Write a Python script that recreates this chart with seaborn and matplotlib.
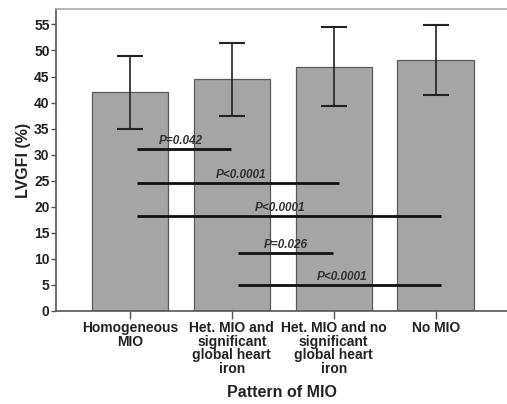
import matplotlib
matplotlib.use("Agg")
import matplotlib.pyplot as plt
import pandas as pd
import seaborn as sns

# Values
categories = [
    "Homogeneous\nMIO",
    "Het. MIO and\nsignificant\nglobal heart\niron",
    "Het. MIO and no\nsignificant\nglobal heart\niron",
    "No MIO",
]
lvgfi_mean = [42.0, 44.5, 46.9, 48.2]
lvgfi_err = [7.0, 7.0, 7.6, 6.7]

# pairwise comparisons: start, end (category position), height, label
comp_start = [0.07, 0.07, 0.07, 1.06, 1.06]
comp_end = [0.99, 2.05, 3.05, 1.99, 3.05]
comp_y = [31.0, 24.6, 18.2, 11.2, 5.0]
comp_label = ["P=0.042", "P<0.0001", "P<0.0001", "P=0.026", "P<0.0001"]
comp_text_x = [0.50, 1.09, 1.47, 1.53, 2.08]


def main():
    sns.set_style("white")
    plt.rcParams["font.family"] = ["Liberation Sans", "DejaVu Sans"]

    df = pd.DataFrame({"pattern": categories, "lvgfi": lvgfi_mean})

    fig = plt.figure(figsize=(5.07, 4.04), dpi=100)
    ax = fig.add_axes([0.1105, 0.2302, 0.8895, 0.7468])

    sns.barplot(df, x="pattern", y="lvgfi", color="#a5a5a5", saturation=1,
                width=0.75, edgecolor="#5a5a5a", linewidth=0.9, errorbar=None, ax=ax)
    ax.errorbar(range(len(categories)), lvgfi_mean, yerr=lvgfi_err, fmt="none",
                ecolor="#222222", elinewidth=1.2, capsize=9.4, capthick=1.5, zorder=3)

    for x0, x1, y, lab, tx in zip(comp_start, comp_end, comp_y, comp_label, comp_text_x):
        ax.plot([x0, x1], [y, y], color="#111111", lw=2.0, solid_capstyle="butt", zorder=4)
        ax.text(tx, y + 0.4, lab, ha="center", va="bottom", fontsize=8.5,
                fontstyle="italic", fontweight="bold", color="#333333", zorder=5)

    ax.set_xlim(-0.725, 3.70)
    ax.set_ylim(0, 57.9)
    ax.set_yticks(range(0, 56, 5))

    for side in ["left", "bottom"]:
        ax.spines[side].set_color("#555555")
        ax.spines[side].set_linewidth(1.2)
    ax.spines["top"].set_color("#aaaaaa")
    ax.spines["top"].set_linewidth(1.2)
    ax.spines["right"].set_visible(False)

    ax.tick_params(axis="y", direction="out", length=3.6, width=1, color="#555555",
                   left=True, labelsize=10, pad=1)
    ax.tick_params(axis="x", direction="out", length=5.5, width=1, color="#555555",
                   bottom=True, labelsize=10, pad=2)
    for lab in ax.get_xticklabels() + ax.get_yticklabels():
        lab.set_fontweight("bold")
        lab.set_color("#222222")
    for lab in ax.get_xticklabels():
        lab.set_linespacing(0.95)

    ax.set_xlabel("Pattern of MIO", fontsize=11.5, fontweight="bold", color="#222222", labelpad=7)
    ax.set_ylabel("LVGFI (%)", fontsize=11.5, fontweight="bold", color="#222222", labelpad=2)

    fig.savefig("out.png", dpi=100)


if __name__ == "__main__":
    main()
